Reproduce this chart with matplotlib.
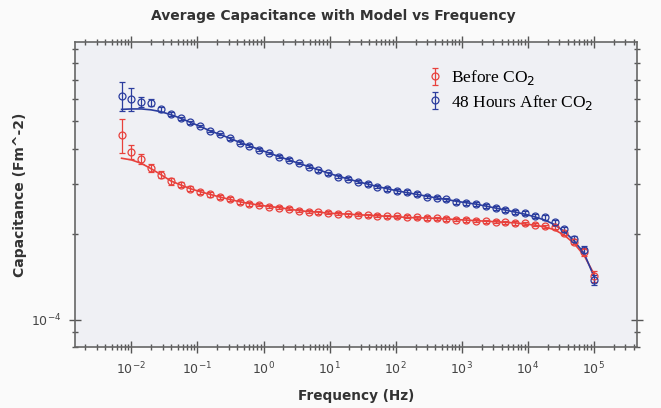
import matplotlib.pyplot as plt

# frequencies (Hz), ~7 points per decade
freq = [0.0071, 0.010, 0.0141, 0.0198, 0.0279, 0.0394, 0.0555, 0.0782, 0.110, 0.155,
        0.219, 0.308, 0.435, 0.612, 0.863, 1.22, 1.71, 2.42, 3.40, 4.80,
        6.76, 9.53, 13.4, 18.9, 26.7, 37.6, 53.0, 74.6, 105, 148,
        209, 294, 415, 585, 824, 1160, 1640, 2310, 3250, 4580,
        6460, 9100, 12800, 18100, 25500, 35900, 50600, 71300, 100000]

# capacitance (x1e-4 F m^-2)
before = [4.48, 3.90, 3.68, 3.42, 3.24, 3.07, 2.99, 2.89, 2.82, 2.76,
          2.70, 2.66, 2.60, 2.56, 2.54, 2.50, 2.48, 2.46, 2.42, 2.40,
          2.39, 2.38, 2.36, 2.35, 2.34, 2.33, 2.32, 2.31, 2.31, 2.30,
          2.29, 2.28, 2.27, 2.26, 2.25, 2.24, 2.23, 2.22, 2.21, 2.20,
          2.19, 2.18, 2.16, 2.13, 2.11, 2.02, 1.88, 1.73, 1.42]
after48 = [6.15, 6.00, 5.85, 5.80, 5.50, 5.30, 5.12, 4.95, 4.80, 4.62,
           4.50, 4.35, 4.20, 4.10, 3.97, 3.86, 3.75, 3.66, 3.56, 3.46,
           3.36, 3.28, 3.19, 3.13, 3.06, 3.00, 2.94, 2.88, 2.84, 2.81,
           2.77, 2.71, 2.69, 2.65, 2.60, 2.58, 2.55, 2.52, 2.48, 2.44,
           2.40, 2.38, 2.32, 2.29, 2.20, 2.08, 1.92, 1.76, 1.38]

# error bars (x1e-4)
before_err = [0.62, 0.22, 0.16, 0.12, 0.10, 0.08, 0.07, 0.06, 0.05, 0.05,
              0.04, 0.04, 0.04, 0.04, 0.03, 0.03, 0.03, 0.03, 0.03, 0.03,
              0.03, 0.03, 0.03, 0.03, 0.03, 0.03, 0.03, 0.03, 0.03, 0.03,
              0.03, 0.03, 0.03, 0.03, 0.03, 0.03, 0.03, 0.03, 0.03, 0.03,
              0.03, 0.03, 0.03, 0.03, 0.03, 0.03, 0.04, 0.05, 0.06]
after48_err = [0.72, 0.55, 0.22, 0.16, 0.10, 0.08, 0.07, 0.06, 0.05, 0.05,
               0.05, 0.05, 0.04, 0.04, 0.04, 0.04, 0.04, 0.04, 0.04, 0.04,
               0.04, 0.04, 0.04, 0.04, 0.04, 0.04, 0.04, 0.04, 0.04, 0.04,
               0.04, 0.04, 0.04, 0.04, 0.04, 0.04, 0.04, 0.04, 0.04, 0.04,
               0.04, 0.04, 0.04, 0.04, 0.04, 0.04, 0.05, 0.05, 0.06]

# model fits (x1e-4)
before_model = [3.70, 3.65, 3.55, 3.40, 3.24, 3.08, 2.98, 2.89, 2.82, 2.76,
                2.70, 2.65, 2.60, 2.56, 2.53, 2.50, 2.48, 2.45, 2.42, 2.40,
                2.39, 2.37, 2.36, 2.35, 2.34, 2.33, 2.32, 2.31, 2.30, 2.29,
                2.28, 2.28, 2.27, 2.26, 2.25, 2.24, 2.23, 2.22, 2.21, 2.20,
                2.19, 2.17, 2.15, 2.12, 2.07, 1.98, 1.85, 1.68, 1.45]
after48_model = [5.50, 5.52, 5.52, 5.48, 5.40, 5.27, 5.12, 4.95, 4.79, 4.62,
                 4.49, 4.35, 4.21, 4.09, 3.97, 3.86, 3.75, 3.65, 3.55, 3.46,
                 3.37, 3.28, 3.20, 3.13, 3.06, 3.00, 2.94, 2.89, 2.84, 2.80,
                 2.76, 2.72, 2.68, 2.65, 2.61, 2.58, 2.55, 2.51, 2.47, 2.43,
                 2.39, 2.35, 2.30, 2.24, 2.16, 2.04, 1.89, 1.71, 1.42]

xticks = [1e-2, 1e-1, 1e0, 1e1, 1e2, 1e3, 1e4, 1e5]

red = '#e8413c'
blue = '#2b3d9e'
s = 1e-4

fig = plt.figure(figsize=(6.61, 4.08), dpi=100, facecolor='#fafafa')
ax = fig.add_axes([0.1135, 0.1495, 0.8502, 0.7475], facecolor='#eff0f4')

ax.plot(freq, [v * s for v in before_model], '-', color=red, lw=1.2)
ax.plot(freq, [v * s for v in after48_model], '-', color=blue, lw=1.2)
ax.errorbar(freq, [v * s for v in before], yerr=[e * s for e in before_err],
            fmt='o', mfc='none', mec=red, ms=5, mew=0.9, ecolor=red,
            elinewidth=0.9, capsize=2.5, label='Before CO$_2$')
ax.errorbar(freq, [v * s for v in after48], yerr=[e * s for e in after48_err],
            fmt='o', mfc='none', mec=blue, ms=5, mew=0.9, ecolor=blue,
            elinewidth=0.9, capsize=2.5, label='48 Hours After CO$_2$')

ax.set_xscale('log')
ax.set_yscale('log')
ax.set_xlim(1.4e-3, 4.5e5)
ax.set_ylim(8.0e-5, 9.5e-4)
ax.set_xticks(xticks)

for sp in ax.spines.values():
    sp.set_color('#666666')
    sp.set_linewidth(1.2)
ax.tick_params(which='both', direction='inout', top=True, right=True,
               colors='#555555', labelcolor='#444444', labelsize=9)
ax.tick_params(which='major', length=8, width=1.0, pad=6)
ax.tick_params(which='minor', length=5, width=1.0)
ax.yaxis.set_minor_formatter(plt.NullFormatter())

fig.text(0.504, 0.962, 'Average Capacitance with Model vs Frequency', fontsize=10,
         fontweight='bold', color='#333333', ha='center', va='center')
ax.set_xlabel('Frequency (Hz)', fontsize=9.8, fontweight='bold', color='#333333',
              labelpad=8)
ax.set_ylabel('Capacitance (Fm^-2)', fontsize=10, fontweight='bold', color='#333333',
              labelpad=3)

ax.legend(loc='upper right', bbox_to_anchor=(0.95, 0.965), frameon=False,
          prop={'family': 'Liberation Serif', 'size': 12.5}, handletextpad=0.3,
          handlelength=1.2, labelspacing=0.3)

fig.savefig('out.png', dpi=100, facecolor=fig.get_facecolor())
